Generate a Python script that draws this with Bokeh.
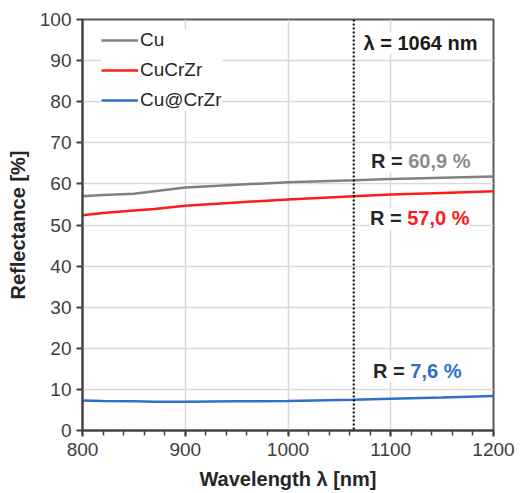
from bokeh.plotting import figure
from bokeh.models import Label, Span, Legend, LegendItem, FixedTicker, Range1d
from bokeh.embed import file_html
from bokeh.resources import INLINE

# wavelength [nm]
wl = [800, 820, 850, 870, 900, 950, 1000, 1064, 1100, 1150, 1200]
cu = [57.0, 57.3, 57.6, 58.2, 59.1, 59.8, 60.4, 60.9, 61.2, 61.5, 61.8]
cucrzr = [52.4, 52.9, 53.5, 53.9, 54.7, 55.5, 56.2, 57.0, 57.4, 57.8, 58.2]
cu_crzr = [7.3, 7.2, 7.1, 7.0, 7.0, 7.1, 7.2, 7.5, 7.7, 8.0, 8.4]
x_ticks = [800, 900, 1000, 1100, 1200]
y_ticks = [0, 10, 20, 30, 40, 50, 60, 70, 80, 90, 100]
laser_wl = 1064
series_names = ["Cu", "CuCrZr", "Cu@CrZr"]
series_colors = ["#808080", "#ff1a1a", "#2f6fc9"]
r_values = ["60,9 %", "57,0 %", "7,6 %"]

FONT = "Liberation Sans"

p = figure(width=527, height=493, output_backend="svg", toolbar_location=None,
           x_range=Range1d(800, 1200), y_range=Range1d(0, 100),
           min_border_left=82, min_border_right=34, min_border_top=19, min_border_bottom=63)

p.background_fill_color = "white"
p.border_fill_color = "white"
p.outline_line_color = "#595959"
p.outline_line_width = 2

for ax in (p.xaxis[0], p.yaxis[0]):
    ax.axis_line_color = "#404040"
    ax.axis_line_width = 2
    ax.major_tick_line_color = "#404040"
    ax.major_tick_line_width = 2
    ax.minor_tick_line_color = "#404040"
    ax.minor_tick_line_width = 1.5
    ax.major_tick_in = 0
    ax.major_tick_out = 6
    ax.minor_tick_in = 0
    ax.minor_tick_out = 5
    ax.major_label_text_font = FONT
    ax.major_label_text_font_size = "19px"
    ax.major_label_text_color = "#404040"
    ax.axis_label_text_font = FONT
    ax.axis_label_text_font_style = "bold"
    ax.axis_label_text_font_size = "20px"
    ax.axis_label_text_color = "#262626"

p.xaxis.ticker = FixedTicker(ticks=x_ticks, minor_ticks=list(range(800, 1201, 20)))
p.yaxis.ticker = FixedTicker(ticks=y_ticks, minor_ticks=[])
p.xaxis.major_label_standoff = 6
p.yaxis.major_label_standoff = 5
p.xaxis.axis_label = "Wavelength λ [nm]"
p.xaxis.axis_label_standoff = 9
p.yaxis.axis_label = "Reflectance [%]"
p.yaxis.axis_label_standoff = 8

p.xgrid.grid_line_color = "#d9d9d9"
p.ygrid.grid_line_color = "#d9d9d9"
p.xgrid.grid_line_width = 1.5
p.ygrid.grid_line_width = 1.5

renderers = []
for ys, c in zip([cu, cucrzr, cu_crzr], series_colors):
    r = p.line(wl, ys, line_color=c, line_width=2.5)
    renderers.append(r)

p.add_layout(Span(location=laser_wl, dimension="height", line_color="black",
                  line_width=2, line_dash="2 2"))

legend = Legend(items=[LegendItem(label=n, renderers=[r]) for n, r in zip(series_names, renderers)],
                location=(19, 319), border_line_color=None, background_fill_color="white",
                background_fill_alpha=1.0, padding=10, spacing=8, glyph_width=37,
                glyph_height=20, label_height=20, label_standoff=2,
                label_text_font=FONT, label_text_font_size="19px", label_text_color="#262626")
p.add_layout(legend)

def lab(x, y, text, color, align):
    p.add_layout(Label(x=x, y=y, text=text, text_color=color, text_font=FONT,
                       text_font_size="20px", text_font_style="bold", text_align=align,
                       text_baseline="middle", background_fill_color="white",
                       background_fill_alpha=1.0))

lab(1129, 94.4, "λ = 1064 nm", "#1a1a1a", "center")
label_pos = [(1117, 65.5), (1116, 51.6), (1119, 14.4)]
text_colors = ["#8c8c8c", "#ff1a1a", "#2f6fc9"]
for (x, y), val, c in zip(label_pos, r_values, text_colors):
    lab(x, y, "R = ", "#262626", "right")
    lab(x, y, val, c, "left")

open("out.html", "w").write(file_html(p, INLINE))
